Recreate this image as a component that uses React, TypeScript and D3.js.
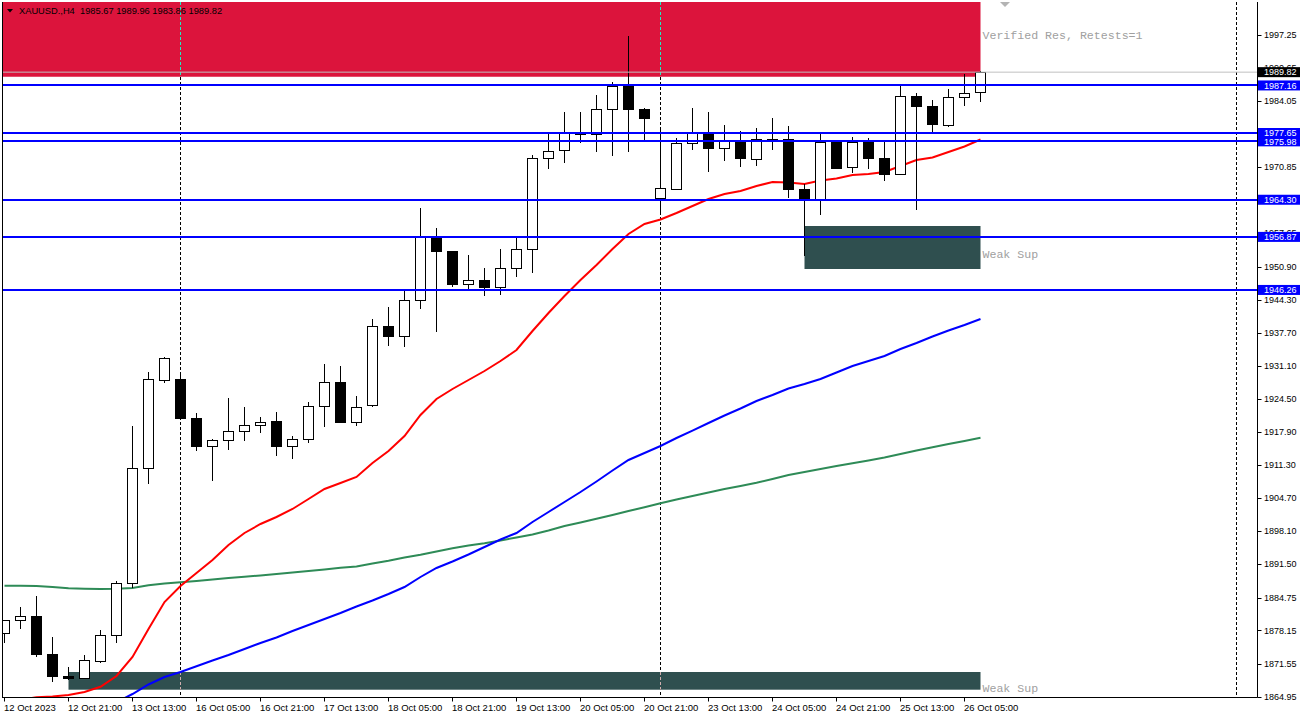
import React from 'react';
import * as d3 from 'd3';

const W = 1304;
const H = 717;

// H4 bars, oldest first: [open, high, low, close]
const candles: [number, number, number, number][] = [
  [1877.6, 1880.3, 1875.6, 1880.2],
  [1880.2, 1882.85, 1878.5, 1881.0],
  [1881.0, 1885.05, 1872.9, 1873.3],
  [1873.4, 1876.8, 1867.9, 1868.9],
  [1869.05, 1870.85, 1868.25, 1868.6],
  [1868.6, 1873.2, 1868.5, 1872.25],
  [1872.0, 1878.25, 1871.7, 1877.2],
  [1877.2, 1888.1, 1875.7, 1887.6],
  [1887.6, 1919.05, 1886.6, 1910.6],
  [1910.6, 1929.85, 1907.45, 1928.4],
  [1928.1, 1932.9, 1927.6, 1932.6],
  [1928.4, 1929.6, 1920.4, 1920.5],
  [1920.6, 1921.6, 1914.1, 1914.9],
  [1915.0, 1916.4, 1908.1, 1916.2],
  [1916.2, 1924.6, 1914.3, 1918.0],
  [1918.0, 1922.8, 1916.1, 1919.2],
  [1919.2, 1920.8, 1917.7, 1919.7],
  [1920.0, 1921.85, 1913.1, 1914.9],
  [1915.0, 1917.0, 1912.4, 1916.4],
  [1916.4, 1923.85, 1915.6, 1923.0],
  [1923.0, 1931.45, 1918.8, 1927.8],
  [1927.8, 1931.05, 1919.6, 1919.7],
  [1919.8, 1925.05, 1919.1, 1922.8],
  [1923.2, 1940.45, 1922.9, 1939.0],
  [1939.0, 1942.85, 1935.1, 1936.9],
  [1936.9, 1946.1, 1934.9, 1944.25],
  [1944.2, 1962.65, 1942.45, 1957.0],
  [1957.0, 1958.65, 1937.9, 1953.9],
  [1954.05, 1954.1, 1946.9, 1947.3],
  [1947.4, 1953.25, 1946.1, 1948.25],
  [1948.25, 1950.65, 1945.1, 1946.8],
  [1946.8, 1954.45, 1945.3, 1950.6],
  [1950.6, 1957.0, 1948.9, 1954.4],
  [1954.4, 1973.3, 1949.6, 1972.6],
  [1972.6, 1977.6, 1970.5, 1974.0],
  [1974.1, 1981.85, 1971.7, 1977.8],
  [1977.4, 1981.85, 1975.7, 1977.45],
  [1977.4, 1985.25, 1973.9, 1982.4],
  [1982.4, 1987.85, 1973.1, 1987.05],
  [1987.05, 1997.05, 1973.9, 1982.4],
  [1982.4, 1982.6, 1975.9, 1980.5],
  [1964.6, 1978.6, 1961.25, 1966.6],
  [1966.4, 1976.6, 1966.3, 1975.6],
  [1975.6, 1982.6, 1974.3, 1977.5],
  [1977.5, 1981.8, 1969.9, 1974.5],
  [1974.6, 1979.2, 1972.1, 1976.0],
  [1976.0, 1978.0, 1970.9, 1972.5],
  [1972.4, 1978.6, 1971.1, 1976.4],
  [1976.4, 1980.6, 1974.3, 1976.45],
  [1976.4, 1979.0, 1964.7, 1966.3],
  [1966.4, 1967.45, 1953.1, 1964.2],
  [1964.2, 1977.45, 1961.2, 1975.8],
  [1975.8, 1976.25, 1970.5, 1970.6],
  [1970.8, 1976.8, 1969.7, 1975.8],
  [1975.8, 1976.6, 1970.5, 1972.5],
  [1972.6, 1975.9, 1968.1, 1969.3],
  [1969.4, 1987.05, 1969.3, 1985.0],
  [1985.0, 1985.65, 1962.3, 1982.9],
  [1983.0, 1984.2, 1977.6, 1979.3],
  [1979.1, 1986.45, 1978.9, 1984.8],
  [1984.8, 1989.45, 1983.1, 1985.6],
  [1985.67, 1989.96, 1983.86, 1989.82],
];

// moving averages (null = not on screen)
const maRed: (number | null)[] = [
  null, 1864.3, 1864.79, 1864.95, 1865.25, 1865.85, 1866.9, 1869.05, 1872.85, 1878.45,
  1883.85, 1887.05, 1889.65, 1892.25, 1895.25, 1897.65, 1899.45, 1900.85, 1902.45, 1904.45,
  1906.45, 1907.65, 1908.85, 1911.65, 1914.05, 1917.05, 1921.25, 1924.45, 1926.45, 1928.25,
  1930.05, 1932.05, 1934.25, 1938.05, 1941.65, 1945.05, 1948.25, 1951.25, 1954.45, 1957.45,
  1959.45, 1960.35, 1961.65, 1963.05, 1964.45, 1965.45, 1966.05, 1967.05, 1967.85, 1967.75,
  1967.45, 1968.15, 1968.55, 1969.25, 1969.45, 1969.85, 1971.05, 1972.25, 1972.75, 1973.85,
  1974.95, 1976.35,
];

const maBlue: (number | null)[] = [
  null, null, null, null, null, null, null, 1863.8, 1865.45, 1867.35,
  1868.85, 1869.85, 1870.99, 1872.15, 1873.25, 1874.45, 1875.65, 1876.75, 1878.05, 1879.25,
  1880.45, 1881.65, 1882.95, 1884.15, 1885.45, 1886.85, 1888.85, 1890.65, 1891.95, 1893.35,
  1894.85, 1896.35, 1897.65, 1899.85, 1901.85, 1903.85, 1905.85, 1907.95, 1910.15, 1912.25,
  1913.65, 1915.05, 1916.65, 1918.11, 1919.65, 1921.15, 1922.55, 1924.05, 1925.25, 1926.55,
  1927.45, 1928.45, 1929.75, 1931.05, 1932.05, 1933.05, 1934.45, 1935.65, 1936.95, 1938.15,
  1939.25, 1940.45,
];

const maGreen: (number | null)[] = [
  1887.11, 1887.11, 1887.05, 1886.85, 1886.59, 1886.51, 1886.45, 1886.49, 1886.65, 1887.19,
  1887.55, 1887.79, 1888.05, 1888.35, 1888.65, 1888.89, 1889.15, 1889.45, 1889.75, 1890.05,
  1890.35, 1890.71, 1890.95, 1891.55, 1892.11, 1892.75, 1893.31, 1893.95, 1894.61, 1895.15,
  1895.59, 1896.15, 1896.75, 1897.35, 1898.15, 1899.05, 1899.75, 1900.51, 1901.25, 1902.05,
  1902.81, 1903.59, 1904.35, 1905.05, 1905.75, 1906.45, 1907.05, 1907.69, 1908.45, 1909.25,
  1909.85, 1910.45, 1911.05, 1911.59, 1912.15, 1912.75, 1913.45, 1914.15, 1914.79, 1915.45,
  1916.05, 1916.71,
];

// one label every 4 bars, starting at bar 0
const timeLabels = [
  '12 Oct 2023', '12 Oct 21:00', '13 Oct 13:00', '16 Oct 05:00', '16 Oct 21:00', '17 Oct 13:00',
  '18 Oct 05:00', '18 Oct 21:00', '19 Oct 13:00', '20 Oct 05:00', '20 Oct 21:00', '23 Oct 13:00',
  '24 Oct 05:00', '24 Oct 21:00', '25 Oct 13:00', '26 Oct 05:00',
];

// visible price-scale ticks (the ones hidden under tags are left out)
const priceTicks = [
  1997.25, 1990.65, 1984.05, 1970.85, 1957.65, 1950.9, 1944.3, 1937.7,
  1931.1, 1924.5, 1917.9, 1911.3, 1904.7, 1898.1, 1891.5, 1884.75, 1878.15, 1871.55, 1864.95,
];

const levelLines = [1987.16, 1977.65, 1975.98, 1964.3, 1956.87, 1946.26];
const bid = 1989.82;
const header = 'XAUUSD.,H4  1985.67 1989.96 1983.86 1989.82';

// zones: [fromBar, toBar, upper price, lower price, label price, label]
const resZone: [number, number, number, number, number, string] = [-2, 61, 2010, 1988.9, 1997.25, 'Verified Res, Retests=1'];
const supZones: [number, number, number, number, number, string][] = [
  [50, 61, 1959.05, 1950.45, 1953.45, 'Weak Sup'],
  [4, 61, 1869.85, 1866.31, 1866.6, 'Weak Sup'],
];

// week separators and the vertical line past the last bar
const separators = [11, 41, 77];

const PL = 2;
const PT = 2;
const PR = 1257.5;
const PB = 697.5;
const axisFont = '"Liberation Sans", Arial, sans-serif';

const App: React.FC = () => {
  const x = d3.scaleLinear().domain([0, 61]).range([4.5, 980.5]);
  const y = d3.scaleLinear().domain([1997.25, 1864.95]).range([35, 696.5]);

  const mkLine = (vals: (number | null)[]) =>
    d3
      .line<number | null>()
      .defined((d) => d != null)
      .x((_, i) => x(i))
      .y((d) => y(d as number))(vals) || '';

  return (
    <div style={{ position: 'absolute', left: 0, top: 0, width: W, height: H, background: '#fff' }}>
      <svg width={W} height={H} style={{ display: 'block' }}>
        <defs>
          <clipPath id="plot">
            <rect x={PL + 0.5} y={PT} width={PR - PL - 0.5} height={PB - PT} />
          </clipPath>
        </defs>
        <rect x={0} y={0} width={W} height={H} fill="#fff" />

        <g clipPath="url(#plot)">
          {/* backdrop inside the clipped group so the blend has something to invert */}
          <rect x={0} y={0} width={W} height={H} fill="#fff" />

          {/* resistance zone */}
          <rect
            x={PL}
            y={y(resZone[2])}
            width={x(resZone[1]) - PL}
            height={y(resZone[3]) - y(resZone[2])}
            fill="#DC143C"
          />
          {supZones.map((z, i) => (
            <rect
              key={i}
              x={x(z[0])}
              y={y(z[2])}
              width={x(z[1]) - x(z[0])}
              height={y(z[3]) - y(z[2])}
              fill="#2F4F4F"
            />
          ))}

          {/* separators: white with difference blend, black on white, inverted over zones */}
          {separators.map((s) => (
            <line
              key={s}
              x1={x(s)}
              x2={x(s)}
              y1={PT}
              y2={PB}
              stroke="#fff"
              strokeWidth={1}
              strokeDasharray="3,2"
              shapeRendering="crispEdges"
              style={{ mixBlendMode: 'difference' }}
            />
          ))}

          {/* moving averages */}
          <path d={mkLine(maGreen)} fill="none" stroke="#2E8B57" strokeWidth={2} />
          <path d={mkLine(maBlue)} fill="none" stroke="#0000FF" strokeWidth={2} />
          <path d={mkLine(maRed)} fill="none" stroke="#FF0000" strokeWidth={2} />

          {/* candles */}
          {candles.map(([o, h, l, c], i) => {
            const cx = x(i);
            const top = y(Math.max(o, c));
            const bot = y(Math.min(o, c));
            const up = c >= o;
            return (
              <g key={i} shapeRendering="crispEdges">
                <line x1={cx} x2={cx} y1={y(h)} y2={y(l)} stroke="#000" strokeWidth={1} />
                <rect
                  x={cx - 5}
                  y={top}
                  width={10}
                  height={Math.max(bot - top, 0.5)}
                  fill={up ? '#fff' : '#000'}
                  stroke="#000"
                  strokeWidth={1}
                />
              </g>
            );
          })}

          {/* bid line */}
          <line x1={PL} x2={PR} y1={y(bid)} y2={y(bid)} stroke="#C0C0C0" strokeWidth={1} />

          {/* horizontal levels */}
          {levelLines.map((p) => (
            <line
              key={p}
              x1={PL}
              x2={PR}
              y1={y(p)}
              y2={y(p)}
              stroke="#0000FF"
              strokeWidth={2}
              shapeRendering="crispEdges"
            />
          ))}
        </g>

        {/* zone labels */}
        {[resZone, ...supZones].map((z, i) => (
          <text
            key={i}
            x={x(61) + 2}
            y={y(z[4]) + 4}
            fontFamily='"Liberation Mono", "Courier New", monospace'
            fontSize={11.6}
            fill="#A0A0A0"
          >
            {z[5]}
          </text>
        ))}

        {/* header */}
        <path d="M7,9 L13,9 L10,12.5 Z" fill="#000" />
        <text x={19} y={14} fontFamily={axisFont} fontSize={9.3} fill="#000" style={{ whiteSpace: 'pre' }}>
          {header}
        </text>

        {/* chart shift marker */}
        <path d="M1000,2 L1010,2 L1005,7 Z" fill="#B4B4B4" />

        {/* frame */}
        <line x1={PL + 0.5} x2={PL + 0.5} y1={PT} y2={PB} stroke="#000" />
        <line x1={PL} x2={PR} y1={PB} y2={PB} stroke="#000" />
        <line x1={PR} x2={PR} y1={PT} y2={PB} stroke="#000" />

        {/* price axis */}
        {priceTicks.map((p) => (
          <g key={p}>
            <line x1={PR} x2={PR + 4} y1={Math.round(y(p)) + 0.5} y2={Math.round(y(p)) + 0.5} stroke="#000" />
            <text x={1264} y={y(p) + 3.3} fontFamily={axisFont} fontSize={9} fill="#000">
              {p.toFixed(2)}
            </text>
          </g>
        ))}

        {/* level / bid price tags */}
        {[...levelLines.map((p) => ({ p, bg: '#0000FF' })), { p: bid, bg: '#000' }].map(({ p, bg }) => (
          <g key={p}>
            <rect x={PR + 0.5} y={y(p) - 5} width={42} height={10} fill={bg} />
            <text x={1264} y={y(p) + 3.3} fontFamily={axisFont} fontSize={9} fill="#fff">
              {p.toFixed(2)}
            </text>
          </g>
        ))}

        {/* time axis */}
        {timeLabels.map((t, k) => {
          const tx = x(k * 4);
          return (
            <g key={t}>
              <line x1={tx} x2={tx} y1={PB} y2={PB + 4} stroke="#000" />
              <text x={tx - 0.5} y={711} fontFamily={axisFont} fontSize={9.5} fill="#000">
                {t}
              </text>
            </g>
          );
        })}
      </svg>
    </div>
  );
};

export default App;
